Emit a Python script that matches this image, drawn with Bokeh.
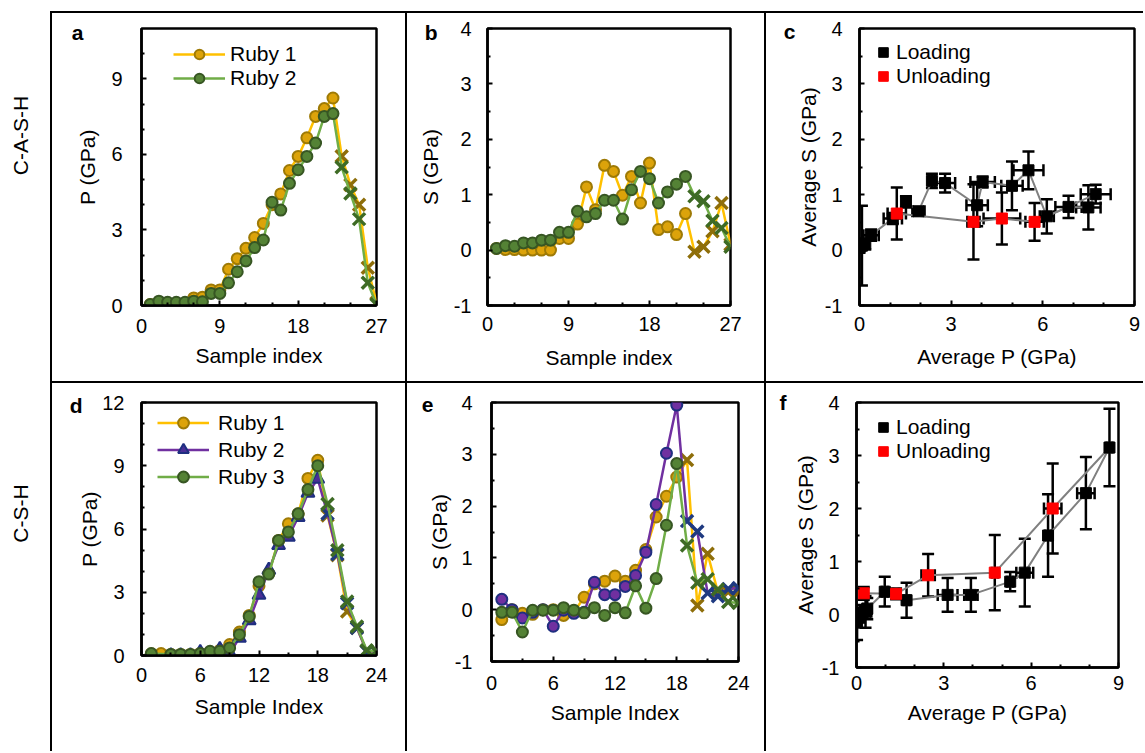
import numpy as np
from bokeh.plotting import figure
from bokeh.layouts import row, column
from bokeh.models import (Div, Spacer, Range1d, FixedTicker, Whisker, TeeHead, LinearAxis,
                          CustomJSTickFormatter, ColumnDataSource, Label, Legend, LegendItem)
from bokeh.embed import file_html
from bokeh.resources import INLINE

# ---------------- data ----------------
# C-A-S-H  (panels a, b): sample index 1..27, loading 1..22, unloading 23..27
idx_cash = list(range(1, 28))
n_load_cash = 22
a_ruby1_P = [0.04, 0.08, 0.10, 0.01, 0.00, 0.30, 0.33, 0.62, 0.62, 1.44, 1.86, 2.27, 2.70, 3.26,
             4.00, 4.43, 5.36, 5.92, 6.66, 7.51, 7.82, 8.24, 5.93, 4.79, 4.00, 1.50, 0.10]
a_ruby2_P = [0.04, 0.17, 0.13, 0.13, 0.13, 0.17, 0.15, 0.48, 0.48, 0.90, 1.34, 1.77, 2.30, 2.60,
             4.10, 3.79, 4.85, 5.39, 5.92, 6.45, 7.51, 7.62, 5.49, 4.45, 3.43, 0.90, 0.04]
b_ruby1_S = [0.03, 0.01, 0.01, 0.00, 0.00, 0.00, 0.00, 0.21, 0.21, 0.47, 1.14, 0.73, 1.53, 1.42,
             0.99, 1.33, 0.85, 1.57, 0.37, 0.42, 0.28, 0.66, -0.03, 0.06, 0.34, 0.85, 0.10]
b_ruby2_S = [0.03, 0.08, 0.07, 0.13, 0.13, 0.18, 0.18, 0.32, 0.32, 0.70, 0.60, 0.66, 0.90, 0.90,
             0.56, 1.09, 1.42, 1.29, 0.85, 1.05, 1.19, 1.33, 0.97, 0.88, 0.53, 0.40, 0.06]

# panel c: averages
c_load_P = [0.00, 0.08, 0.19, 0.38, 1.09, 1.52, 1.93, 2.37, 2.80, 3.85, 4.03, 4.99, 5.53, 6.13, 6.84, 7.49, 7.73]
c_load_S = [0.05, 0.08, 0.11, 0.27, 0.57, 0.87, 0.70, 1.25, 1.21, 0.81, 1.23, 1.16, 1.44, 0.61, 0.78, 0.77, 1.01]
c_load_Perr = [0.05, 0.10, 0.10, 0.25, 0.30, 0.10, 0.20, 0.10, 0.33, 0.35, 0.40, 0.35, 0.49, 0.23, 0.43, 0.40, 0.49]
c_load_Serr = [0.10, 0.72, 0.10, 0.10, 0.10, 0.10, 0.08, 0.13, 0.17, 0.38, 0.10, 0.44, 0.34, 0.31, 0.20, 0.40, 0.17]
c_unload_P = [5.73, 4.66, 3.73, 1.22]
c_unload_S = [0.51, 0.57, 0.51, 0.66]
c_unload_Perr = [0.30, 0.60, 0.20, 0.30]
c_unload_Serr = [0.34, 0.47, 0.68, 0.47]

# C-S-H (panels d, e): sample index 1..24, loading 1..18, unloading 19..24
n_load_csh = 18
d_ruby1_idx = list(range(1, 25))
d_ruby1_P = [0.08, 0.09, 0.05, 0.05, 0.05, 0.10, 0.15, 0.25, 0.52, 1.11, 1.90, 3.30, 3.90, 5.46,
             6.25, 6.72, 8.40, 9.26, 6.64, 4.76, 2.09, 1.30, 0.20, 0.20]
d_ruby2_idx = list(range(3, 25))
d_ruby2_P = [0.00, 0.00, 0.00, 0.15, 0.10, 0.30, 0.12, 0.83, 1.66, 2.87, 4.05, 5.23, 5.62, 6.56,
             7.71, 8.37, 6.72, 4.80, 2.48, 1.30, 0.20, 0.20]
d_ruby3_idx = [1] + list(range(3, 25))
d_ruby3_P = [0.09, 0.05, 0.05, 0.05, 0.09, 0.20, 0.20, 0.36, 0.99, 1.85, 3.50, 3.86, 5.46, 5.86,
             6.72, 7.87, 9.00, 7.19, 4.99, 2.56, 1.38, 0.25, 0.20]

e_idx = list(range(1, 25))
e_ruby1_S = [-0.19, 0.00, -0.07, -0.09, 0.00, 0.00, -0.11, -0.05, 0.24, 0.50, 0.55, 0.65, 0.55, 0.76,
             1.16, 1.79, 2.19, 2.56, 2.89, 0.08, 1.08, 0.34, 0.34, 0.34]
e_ruby2_S = [0.20, 0.00, -0.16, -0.05, 0.00, -0.32, -0.01, -0.07, -0.05, 0.53, 0.29, 0.29, 0.45, 0.66,
             1.11, 2.03, 3.02, 3.95, 1.71, 1.51, 0.32, 0.26, 0.40, 0.42]
e_ruby3_S = [-0.05, -0.05, -0.43, -0.01, -0.01, -0.01, 0.04, -0.01, -0.06, 0.04, -0.11, 0.04, -0.06, 0.46,
             0.03, 0.60, 1.63, 2.82, 1.24, 0.52, 0.59, 0.39, 0.15, 0.13]

# panel f: averages
f_load_P = [0.00, 0.02, 0.10, 0.31, 0.37, 0.97, 1.72, 3.13, 3.93, 5.28, 5.78, 6.58, 7.88, 8.69]
f_load_S = [0.02, -0.15, -0.05, 0.05, 0.11, 0.43, 0.27, 0.37, 0.37, 0.62, 0.79, 1.49, 2.29, 3.15]
f_load_Perr = [0.05, 0.05, 0.10, 0.20, 0.15, 0.10, 0.10, 0.34, 0.23, 0.10, 0.29, 0.10, 0.30, 0.10]
f_load_Serr = [0.10, 0.33, 0.10, 0.30, 0.20, 0.28, 0.33, 0.32, 0.32, 0.18, 0.64, 0.78, 0.68, 0.73]
f_unload_P = [6.74, 4.75, 2.46, 1.36, 0.25]
f_unload_S = [2.00, 0.79, 0.74, 0.39, 0.40]
f_unload_Perr = [0.30, 0.10, 0.23, 0.10, 0.10]
f_unload_Serr = [0.85, 0.71, 0.40, 0.10, 0.12]

row_labels = ["C-A-S-H", "C-S-H"]
panel_letters = ["a", "b", "c", "d", "e", "f"]

# ---------------- style ----------------
FONT = "Liberation Sans"
GOLD_LINE, GOLD_FILL, GOLD_EDGE, GOLD_X = "#FFC000", "#DCA30A", "#9E7A06", "#8E6E0A"
GREEN_LINE, GREEN_FILL, GREEN_EDGE, GREEN_X = "#70AD47", "#548235", "#375623", "#3E6B25"
PURP_LINE, PURP_FILL, PURP_EDGE, PURP_X = "#7030A0", "#4A2E96", "#1F2F80", "#1F3A80"


def make_panel(fw, fh, bl, br, bt, bb, xr, yr, xt, xmin, yt, ymin, xlabel, ylabel,
               ylab_so, yax_so, xlab_so, xax_so):
    p = figure(frame_width=fw, frame_height=fh, min_border_left=bl, min_border_right=br,
               min_border_top=bt, min_border_bottom=bb, x_range=Range1d(*xr), y_range=Range1d(*yr),
               output_backend="svg", toolbar_location=None, tools="")
    p.xgrid.visible = False
    p.ygrid.visible = False
    p.outline_line_color = "black"
    p.outline_line_width = 2.5
    p.outline_line_alpha = 1
    p.background_fill_color = "white"
    p.border_fill_color = "white"
    p.xaxis.ticker = FixedTicker(ticks=xt, minor_ticks=xmin)
    p.yaxis.ticker = FixedTicker(ticks=yt, minor_ticks=ymin)
    p.yaxis.major_label_overrides = {-1: "-1"}
    p.xaxis.axis_label = xlabel
    p.yaxis.axis_label = ylabel
    for ax in (p.xaxis[0], p.yaxis[0]):
        ax.axis_line_width = 2.5
        ax.major_tick_in = 5
        ax.major_tick_out = 0
        ax.minor_tick_in = 3
        ax.minor_tick_out = 0
        ax.major_tick_line_width = 2
        ax.minor_tick_line_width = 2
        ax.major_label_text_font = FONT
        ax.major_label_text_font_size = "20px"
        ax.major_label_text_color = "black"
        ax.axis_label_text_font = FONT
        ax.axis_label_text_font_size = "21px"
        ax.axis_label_text_font_style = "normal"
        ax.axis_label_text_color = "black"
    p.yaxis.major_label_standoff = ylab_so
    p.yaxis.axis_label_standoff = yax_so
    p.xaxis.major_label_standoff = xlab_so
    p.xaxis.axis_label_standoff = xax_so
    return p


def letter(p, txt, yval, standoff):
    # panel letter drawn as the single tick label of an extra, line-less left axis
    ax = LinearAxis(ticker=FixedTicker(ticks=[yval], minor_ticks=[]),
                    formatter=CustomJSTickFormatter(code="return '%s';" % txt),
                    axis_line_color=None, major_tick_line_color=None, minor_tick_line_color=None,
                    major_tick_in=0, major_tick_out=0, minor_tick_in=0, minor_tick_out=0)
    ax.major_label_standoff = standoff
    ax.major_label_text_font = FONT
    ax.major_label_text_font_style = "bold"
    ax.major_label_text_font_size = "21px"
    ax.major_label_text_color = "black"
    p.add_layout(ax, "left")


def ruby_series(p, idx, vals, nload, line_c, fill_c, edge_c, x_c, marker="circle", size=11):
    l = p.line(idx, vals, line_color=line_c, line_width=2.5)
    li = [i for i in idx if i <= nload]
    lv = [v for i, v in zip(idx, vals) if i <= nload]
    ui = [i for i in idx if i > nload]
    uv = [v for i, v in zip(idx, vals) if i > nload]
    s = p.scatter(li, lv, marker=marker, size=size, fill_color=fill_c, line_color=edge_c, line_width=2)
    p.scatter(ui, uv, marker="x", size=17, line_color=x_c, line_width=3.5)
    return l, s


def avg_panel(p, lP, lS, lPe, lSe, uP, uS, uPe, uSe):
    p.line(lP, lS, line_color="#808080", line_width=2)
    p.line([lP[-1]] + uP, [lS[-1]] + uS, line_color="#808080", line_width=2)
    for P, S, Pe, Se in ((lP, lS, lPe, lSe), (uP, uS, uPe, uSe)):
        src = ColumnDataSource(dict(x=P, y=S,
                                    yu=[s + e for s, e in zip(S, Se)], yl=[s - e for s, e in zip(S, Se)],
                                    xu=[q + e for q, e in zip(P, Pe)], xl=[q - e for q, e in zip(P, Pe)]))
        p.add_layout(Whisker(source=src, base="x", upper="yu", lower="yl", dimension="height",
                             line_color="black", line_width=2.5,
                             upper_head=TeeHead(size=12, line_color="black", line_width=2.5),
                             lower_head=TeeHead(size=12, line_color="black", line_width=2.5)))
        p.add_layout(Whisker(source=src, base="y", upper="xu", lower="xl", dimension="width",
                             line_color="black", line_width=2.5,
                             upper_head=TeeHead(size=12, line_color="black", line_width=2.5),
                             lower_head=TeeHead(size=12, line_color="black", line_width=2.5)))
    s1 = p.scatter(lP, lS, marker="square", size=11, fill_color="black", line_color="black")
    s2 = p.scatter(uP, uS, marker="square", size=11, fill_color="#FF0000", line_color="#FF0000")
    return s1, s2


def add_legend(p, items, loc, gw, gh, standoff):
    lg = Legend(items=items, location=loc, glyph_width=gw, glyph_height=gh, label_height=gh,
                label_standoff=standoff, spacing=0, padding=0, margin=0,
                label_text_font=FONT, label_text_font_size="21px", label_text_color="black",
                border_line_alpha=0, background_fill_alpha=0)
    p.add_layout(lg, "center")


ticks27 = [0, 9, 18, 27]
minor27 = [3, 6, 12, 15, 21, 24]
ticks24 = [0, 6, 12, 18, 24]
minor24 = [3, 9, 15, 21]
sticks = [-1, 0, 1, 2, 3, 4]
sminor = [-0.5, 0.5, 1.5, 2.5, 3.5]
pticks9 = [0, 3, 6, 9]
pminor9 = [1, 2, 4, 5, 7, 8]

# ----- panel a -----
pa = make_panel(235, 277, 89, 29, 14, 77, (0, 27), (0, 11), ticks27, minor27,
                [0, 3, 6, 9], [1, 2, 4, 5, 7, 8, 10], "Sample index", "P (GPa)", 19, 9, 13, 8)
la1, sa1 = ruby_series(pa, idx_cash, a_ruby1_P, n_load_cash, GOLD_LINE, GOLD_FILL, GOLD_EDGE, GOLD_X)
la2, sa2 = ruby_series(pa, idx_cash, a_ruby2_P, n_load_cash, GREEN_LINE, GREEN_FILL, GREEN_EDGE, GREEN_X)
add_legend(pa, [LegendItem(label="Ruby 1", renderers=[la1, sa1]),
                LegendItem(label="Ruby 2", renderers=[la2, sa2])], (32, 215), 52, 24, 5)
letter(pa, panel_letters[0], 10.83, -10)

# ----- panel b -----
pb = make_panel(243, 277, 80, 34, 14, 77, (0, 27), (-1, 4), ticks27, minor27,
                sticks, sminor, "Sample index", "S (GPa)", 16, 9, 11, 12)
ruby_series(pb, idx_cash, b_ruby1_S, n_load_cash, GOLD_LINE, GOLD_FILL, GOLD_EDGE, GOLD_X)
ruby_series(pb, idx_cash, b_ruby2_S, n_load_cash, GREEN_LINE, GREEN_FILL, GREEN_EDGE, GREEN_X)
letter(pb, panel_letters[1], 3.92, -22)

# ----- panel c -----
pc = make_panel(275, 277, 93, 9, 15, 76, (0, 9), (-1, 4), pticks9, pminor9,
                sticks, sminor, "Average P (GPa)", "Average S (GPa)", 17, 2, 11, 11)
sc1, sc2 = avg_panel(pc, c_load_P, c_load_S, c_load_Perr, c_load_Serr,
                     c_unload_P, c_unload_S, c_unload_Perr, c_unload_Serr)
add_legend(pc, [LegendItem(label="Loading", renderers=[sc1]),
                LegendItem(label="Unloading", renderers=[sc2])], (12, 217), 24, 24, 1)
letter(pc, panel_letters[2], 3.94, -2)

# ----- panel d -----
pd_ = make_panel(235, 253, 89, 29, 19, 96, (0, 24), (0, 12), ticks24, minor24,
                 [0, 3, 6, 9, 12], [1, 2, 4, 5, 7, 8, 10, 11], "Sample Index", "P (GPa)", 17, -2, 12, 10)
ld1, sd1 = ruby_series(pd_, d_ruby1_idx, d_ruby1_P, n_load_csh, GOLD_LINE, GOLD_FILL, GOLD_EDGE, GOLD_X)
ld2, sd2 = ruby_series(pd_, d_ruby2_idx, d_ruby2_P, n_load_csh, PURP_LINE, PURP_FILL, PURP_EDGE, PURP_X,
                       marker="triangle", size=13)
ld3, sd3 = ruby_series(pd_, d_ruby3_idx, d_ruby3_P, n_load_csh, GREEN_LINE, GREEN_FILL, GREEN_EDGE, GREEN_X)
add_legend(pd_, [LegendItem(label="Ruby 1", renderers=[ld1, sd1]),
                 LegendItem(label="Ruby 2", renderers=[ld2, sd2]),
                 LegendItem(label="Ruby 3", renderers=[ld3, sd3])], (16, 165), 52, 27, 9)
letter(pd_, panel_letters[3], 11.86, -7)

# ----- panel e -----
pe = make_panel(247, 259, 84, 26, 18, 91, (0, 24), (-1, 4), ticks24, minor24,
                sticks, sminor, "Sample Index", "S (GPa)", 19, 1, 14, 8)
ruby_series(pe, e_idx, e_ruby1_S, n_load_csh, GOLD_LINE, GOLD_FILL, GOLD_EDGE, GOLD_X)
ruby_series(pe, e_idx, e_ruby2_S, n_load_csh, PURP_LINE, PURP_LINE, PURP_EDGE, PURP_X)
ruby_series(pe, e_idx, e_ruby3_S, n_load_csh, GREEN_LINE, GREEN_FILL, GREEN_EDGE, GREEN_X)
letter(pe, panel_letters[4], 3.96, -9)

# ----- panel f -----
pf = make_panel(262, 265, 90, 25, 18, 85, (0, 9), (-1, 4), pticks9, pminor9,
                sticks, sminor, "Average P (GPa)", "Average S (GPa)", 17, 2, 8, 8)
sf1, sf2 = avg_panel(pf, f_load_P, f_load_S, f_load_Perr, f_load_Serr,
                     f_unload_P, f_unload_S, f_unload_Perr, f_unload_Serr)
add_legend(pf, [LegendItem(label="Loading", renderers=[sf1]),
                LegendItem(label="Unloading", renderers=[sf2])], (15, 204), 24, 24, 1)
letter(pf, panel_letters[5], 3.995, 4)

# ----- row labels -----
H = 751
plab = figure(width=50, height=H, x_range=Range1d(0, 50), y_range=Range1d(0, H),
              x_axis_location=None, y_axis_location=None, min_border=0,
              output_backend="svg", toolbar_location=None, tools="")
plab.xgrid.visible = False
plab.ygrid.visible = False
plab.outline_line_color = None
for txt, yy in zip(row_labels, [616, 238]):
    plab.add_layout(Label(x=20, y=yy, text=txt, angle=np.pi / 2, text_font=FONT,
                          text_font_size="21px", text_align="center", text_baseline="middle",
                          text_color="black"))


def bar(w, h):
    return Div(text="", width=w, height=h, margin=0, styles={"background-color": "black"})


row1 = row(bar(2, 368), pa, bar(2, 368), pb, bar(2, 368), pc, spacing=0)
row2 = row(bar(2, 368), pd_, bar(2, 368), pe, bar(2, 368), pf, spacing=0)
right = column(Spacer(width=1093, height=11, margin=0), bar(1093, 2), row1, bar(1093, 2), row2, spacing=0)
layout = row(plab, right, spacing=0)

open("out.html", "w").write(file_html(layout, INLINE))
